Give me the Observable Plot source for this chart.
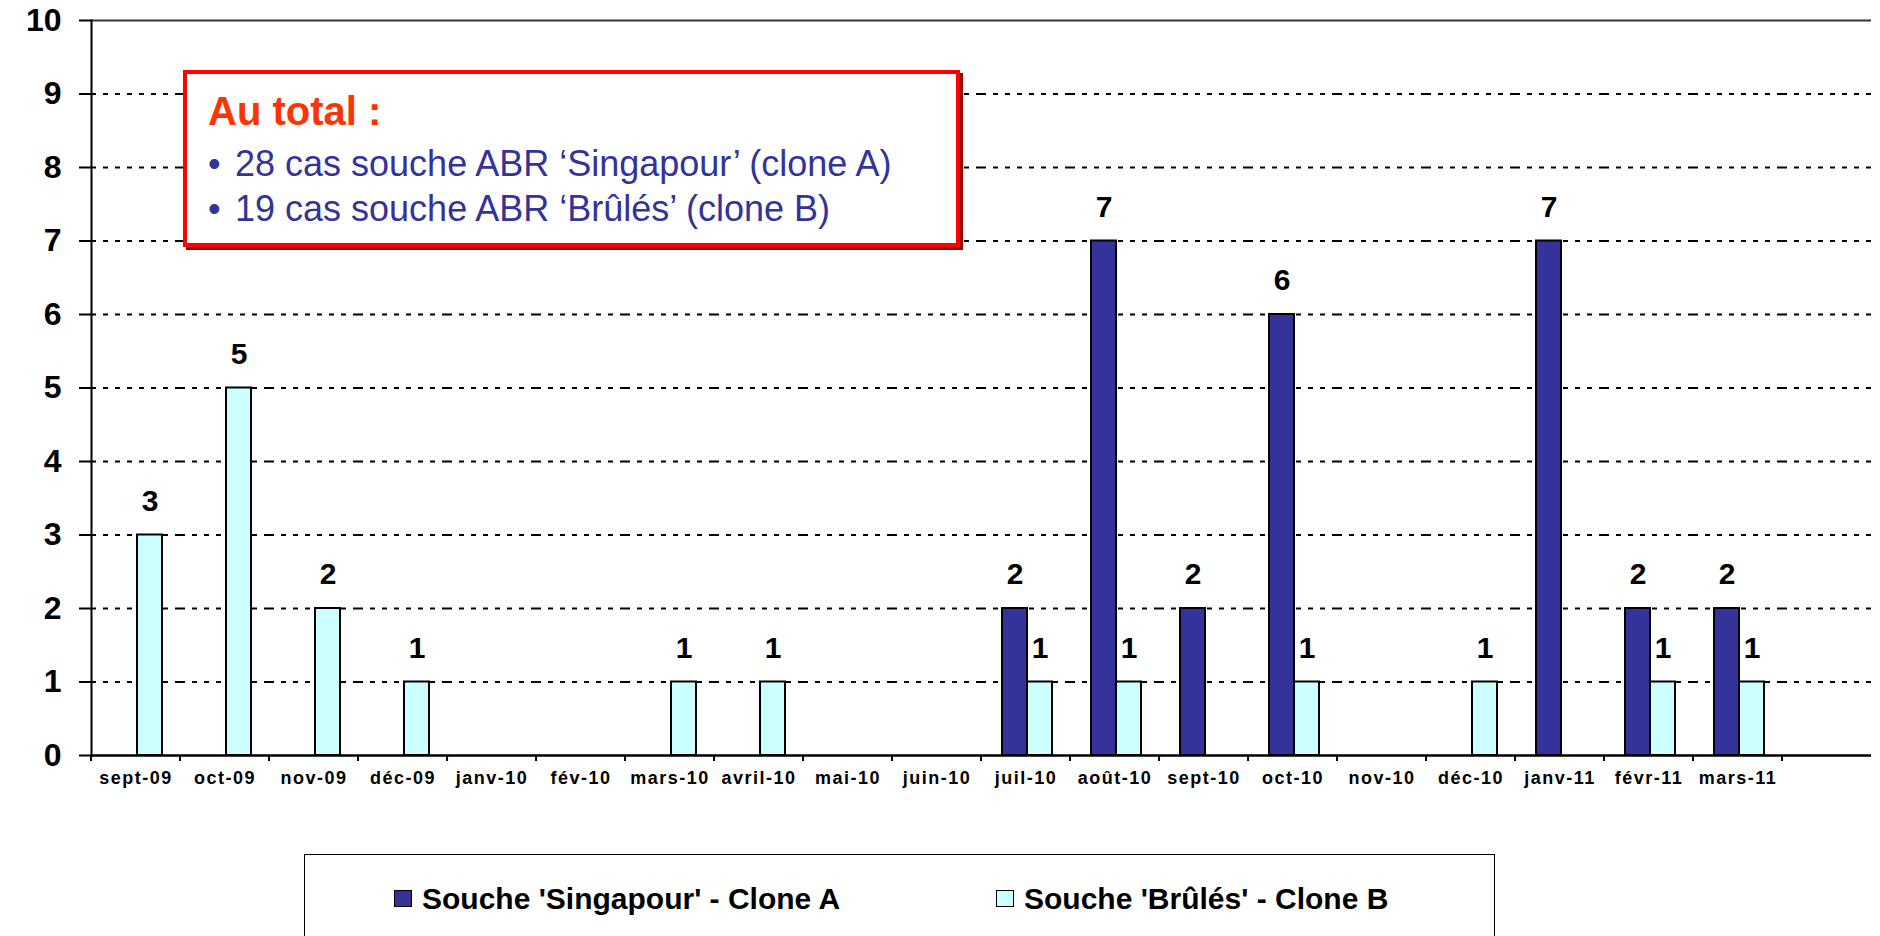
<!DOCTYPE html>
<html>
<head>
<meta charset="utf-8">
<script src="https://cdn.jsdelivr.net/npm/d3@7"></script>
<script src="https://cdn.jsdelivr.net/npm/@observablehq/plot@0.6"></script>
<style>
  html, body { margin: 0; padding: 0; background: #fff; }
  #wrap { position: relative; width: 1880px; height: 936px; overflow: hidden; font-family: "Liberation Sans", Arial, sans-serif; }
  #chart { position: absolute; left: 0; top: 0; }
  #chart svg g[aria-label="fx-axis tick label"] text { letter-spacing: 1.5px; }
  .note { position: absolute; left: 183px; top: 70px; width: 769px; height: 169px; border: 4px solid #ff0000; background: #fff; box-shadow: 3px 3px 0 #a00000; }
  .line { position: absolute; white-space: nowrap; line-height: 1; }
  .title { left: 208px; top: 91px; font-size: 40px; font-weight: bold; color: #ff3300; }
  .bl { left: 208px; font-size: 36px; color: #333399; }
  .bl .dot { display: inline-block; width: 27px; }
  .legend { position: absolute; left: 304px; top: 854px; width: 1189px; height: 120px; border: 1.5px solid #000; background: #fff; }
  .item { position: absolute; white-space: nowrap; line-height: 1; font-size: 30px; font-weight: bold; color: #000; }
  .sw { position: absolute; width: 16px; height: 15px; border: 1.5px solid #000; }
</style>
</head>
<body>
<div id="wrap">
  <div id="chart"></div>
</div>
<script>
// ---- data ----
const months = ["sept-09","oct-09","nov-09","déc-09","janv-10","fév-10","mars-10","avril-10","mai-10","juin-10","juil-10","août-10","sept-10","oct-10","nov-10","déc-10","janv-11","févr-11","mars-11"];
const slots = [...months, ""]; // trailing empty column of the original chart
const cloneA = [0,0,0,0,0,0,0,0,0,0,2,7,2,6,0,0,7,2,2];
const cloneB = [3,5,2,1,0,0,1,1,0,0,1,1,0,1,0,1,0,1,1];
const seriesKeys = ["A","B"];
const seriesNames = ["Souche 'Singapour' - Clone A", "Souche 'Brûlés' - Clone B"];
const seriesColors = ["#333399", "#ccffff"];
const yTicks = [0,1,2,3,4,5,6,7,8,9,10];
const noteTitle = "Au total :";
const noteLines = ["28 cas souche ABR ‘Singapour’ (clone A)", "19 cas souche ABR ‘Brûlés’ (clone B)"];

const rows = months.flatMap((m, i) => [
  {month: m, series: "A", value: cloneA[i]},
  {month: m, series: "B", value: cloneB[i]}
]);
const nonZero = rows.filter(d => d.value > 0);
// grid rows per column so that every column (facet) is drawn
const gridRows = slots.flatMap(s => yTicks.filter(t => t > 0 && t < 10).map(t => ({slot: s, tick: t})));
const topRows = slots.map(s => ({slot: s, tick: 10}));
const baseRows = slots.map(s => ({slot: s, tick: 0}));

const W = 1880, ML = 82, MR = 0;
const step = (W - ML - MR) / slots.length;

const plot = Plot.plot({
  width: W, height: 830,
  marginLeft: ML, marginRight: MR, marginTop: 20, marginBottom: 75,
  fx: {domain: slots, padding: 0, label: null},
  x: {domain: seriesKeys, paddingInner: 0, paddingOuter: 0.73, align: 0.55, axis: null},
  y: {domain: [0, 10], axis: null},
  color: {domain: seriesKeys, range: seriesColors},
  style: {fontFamily: "Liberation Sans, Arial, sans-serif", color: "#000", background: "transparent"},
  marks: [
    Plot.ruleY(gridRows, {fx: "slot", y: "tick", stroke: "#000", strokeWidth: 2, strokeDasharray: "5,7"}),
    Plot.ruleY(topRows, {fx: "slot", y: "tick", stroke: "#333", strokeWidth: 2}),
    Plot.barY(nonZero, {fx: "month", x: "series", y: "value", fill: "series", stroke: "#000", strokeWidth: 2}),
    Plot.ruleY(baseRows, {fx: "slot", y: "tick", stroke: "#000", strokeWidth: 2.5}),
    Plot.text(nonZero, {fx: "month", x: "series", y: "value", text: d => String(d.value), dy: -34, fontSize: 30, fontWeight: "bold", fill: "#000"}),
    Plot.axisY(yTicks, {tickSize: 12, tickPadding: 18, fontSize: 32, fontWeight: "bold", strokeWidth: 2, tickFormat: "d", label: null}),
    Plot.frame({anchor: "left", facetAnchor: "left", stroke: "#000", strokeWidth: 2}),
    Plot.axisFx({anchor: "bottom", tickSize: 0, tickPadding: 16, fontSize: 18, fontWeight: "bold", label: null}),
    Plot.axisFx({anchor: "bottom", tickSize: 6, tickFormat: () => "", dx: -step / 2, strokeWidth: 2, label: null})
  ]
});
document.getElementById("chart").appendChild(plot);

// ---- annotation box ----
const wrap = document.getElementById("wrap");
const note = document.createElement("div");
note.className = "note";
wrap.appendChild(note);
const t = document.createElement("div");
t.className = "line title";
t.textContent = noteTitle;
wrap.appendChild(t);
const noteTops = [146, 191];
noteLines.forEach((s, i) => {
  const d = document.createElement("div");
  d.className = "line bl";
  d.style.top = noteTops[i] + "px";
  const dot = document.createElement("span");
  dot.className = "dot";
  dot.textContent = "•";
  d.appendChild(dot);
  d.appendChild(document.createTextNode(s));
  wrap.appendChild(d);
});

// ---- legend ----
const legend = document.createElement("div");
legend.className = "legend";
wrap.appendChild(legend);
const itemLeft = [394, 996];
seriesKeys.forEach((k, i) => {
  const sw = document.createElement("div");
  sw.className = "sw";
  sw.style.left = itemLeft[i] + "px";
  sw.style.top = "890px";
  sw.style.background = seriesColors[i];
  wrap.appendChild(sw);
  const lab = document.createElement("div");
  lab.className = "item";
  lab.style.left = (itemLeft[i] + 28) + "px";
  lab.style.top = "884px";
  lab.textContent = seriesNames[i];
  wrap.appendChild(lab);
});
</script>
</body>
</html>
